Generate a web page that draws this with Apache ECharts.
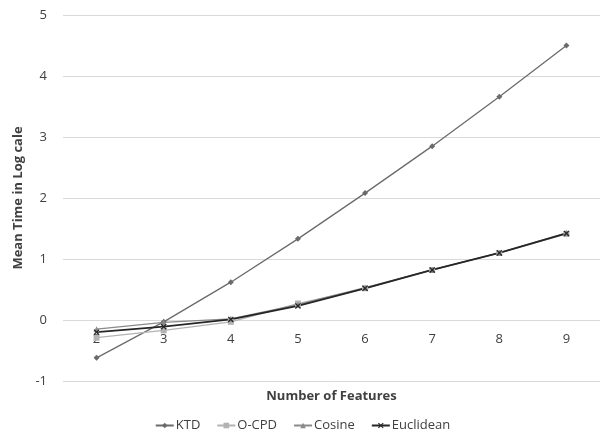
<!DOCTYPE html>
<html><head><meta charset="utf-8">
<script src="https://cdn.jsdelivr.net/npm/echarts@6/dist/echarts.min.js"></script>
<style>html,body{margin:0;padding:0;background:#fff}#c{width:605px;height:433px}</style>
</head><body><div id="c"></div>
<script>
const categories = ['2','3','4','5','6','7','8','9'];
const ktd = [-0.62, -0.03, 0.62, 1.33, 2.08, 2.85, 3.66, 4.50];
const ocpd = [-0.29, -0.17, -0.03, 0.27, 0.52, 0.82, 1.10, 1.41];
const cosine = [-0.15, -0.04, 0.02, 0.25, 0.53, 0.82, 1.10, 1.43];
const euclidean = [-0.20, -0.11, 0.01, 0.23, 0.52, 0.82, 1.10, 1.42];
const seriesNames = ['KTD', 'O-CPD', 'Cosine', 'Euclidean'];

const FONT = 'Open Sans';
const xSym = 'path://M0,1.5L1.5,0L5,3.5L8.5,0L10,1.5L6.5,5L10,8.5L8.5,10L5,6.5L1.5,10L0,8.5L3.5,5Z';
const chart = echarts.init(document.getElementById('c'));
function mk(name, data, color, symbol, size, width) {
  return {name, type: 'line', data, symbol, symbolSize: size, showSymbol: true,
    lineStyle: {color, width}, itemStyle: {color}, emphasis: {disabled: true}};
}
chart.setOption({
  animation: false,
  grid: {left: 63, right: 5, top: 15, bottom: 52, containLabel: false, outerBoundsMode: 'none'},
  legend: {
    top: 414, left: 'center', itemGap: 16, itemWidth: 18, itemHeight: 7,
    textStyle: {fontFamily: FONT, fontSize: 13, color: '#404040', padding: [0,0,0,-3]},
    data: seriesNames
  },
  xAxis: {
    type: 'category', data: categories, boundaryGap: true,
    // the category axis crosses the value axis at 0 (one grid step of 6 above the bottom)
    offset: -61,
    name: 'Number of Features', nameLocation: 'middle', nameGap: 70,
    nameTextStyle: {fontFamily: FONT, fontSize: 13, fontWeight: 'bold', color: '#404040'},
    axisLine: {show: false, onZero: false},
    axisTick: {show: false},
    axisLabel: {fontFamily: FONT, fontSize: 13, color: '#404040', margin: 13}
  },
  yAxis: {
    type: 'value', min: -1, max: 5, interval: 1,
    name: 'Mean Time in Log cale', nameLocation: 'middle', nameGap: 28,
    nameTextStyle: {fontFamily: FONT, fontSize: 13, fontWeight: 'bold', color: '#404040'},
    axisLine: {show: false}, axisTick: {show: false},
    axisLabel: {fontFamily: FONT, fontSize: 13, color: '#404040', margin: 16},
    splitLine: {lineStyle: {color: '#d9d9d9'}}
  },
  series: [
    mk('KTD', ktd, '#6b6b6b', 'diamond', 6, 1.3),
    mk('O-CPD', ocpd, '#b3b3b3', 'rect', 6, 1.3),
    mk('Cosine', cosine, '#8a8a8a', 'triangle', 6, 1.3),
    mk('Euclidean', euclidean, '#262626', xSym, 6, 1.8)
  ]
});
</script></body></html>
